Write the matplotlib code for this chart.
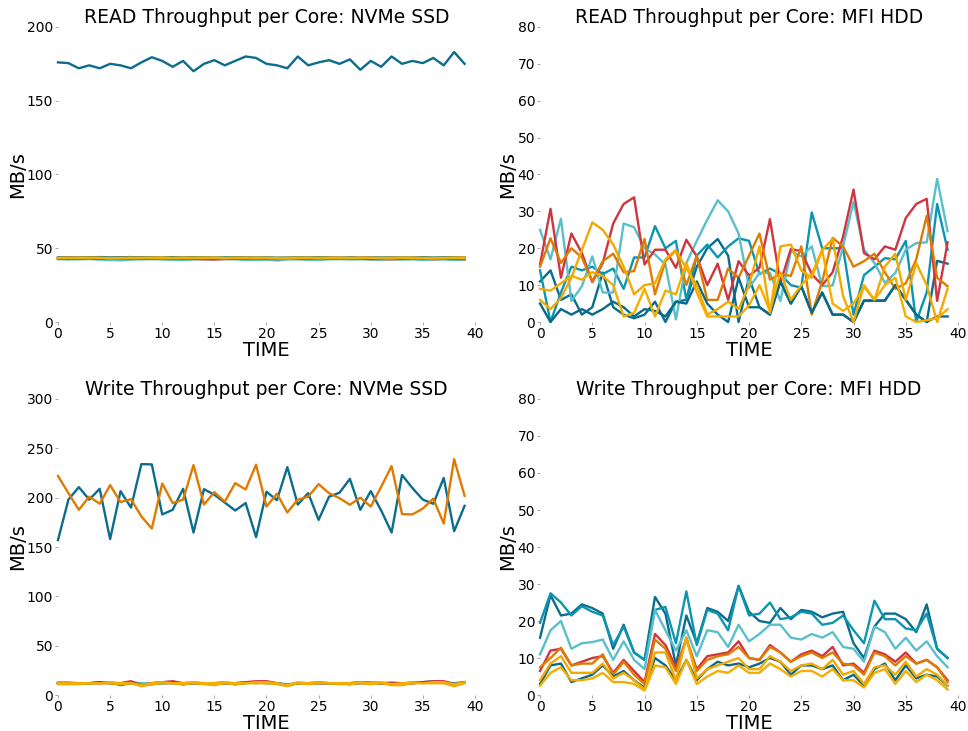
import matplotlib.pyplot as plt

# time steps 0..39
time = list(range(40))

# core colours (same order in every panel)
colors = ['#0b6d8c', '#0b95b2', '#5bbfcb', '#d0343f', '#df7b00', '#086a88', '#f2a900', '#f5ad00']

# ---- READ, NVMe SSD ----
nvme_read = [
    [176, 175.5, 172, 174, 172, 175, 174, 172, 176, 179.5, 177, 173, 177, 170, 175, 177.5, 174, 177, 180, 179,
     175, 174, 172, 180, 174, 176, 177.5, 175, 178, 171, 177, 173, 180, 175, 177, 175.5, 179, 174, 183, 175],
    [43.2, 43.0, 42.8, 43.1, 43.3, 42.6, 42.4, 42.8, 43.0, 43.2, 43.1, 42.7, 42.5, 42.9, 43.0, 42.8, 43.1, 43.2, 42.6, 42.4,
     42.8, 42.2, 42.9, 43.1, 42.7, 42.6, 43.0, 43.2, 42.9, 43.1, 42.8, 42.7, 43.0, 42.9, 43.1, 42.6, 42.9, 43.0, 42.5, 42.8],
    [42.6, 42.4, 42.5, 42.7, 42.3, 42.0, 41.8, 42.3, 42.5, 42.6, 42.4, 42.1, 42.0, 42.4, 42.5, 42.3, 42.6, 42.5, 42.1, 42.0,
     42.3, 41.7, 42.4, 42.5, 42.2, 42.1, 42.5, 42.6, 42.4, 42.5, 42.3, 42.2, 42.4, 42.3, 42.5, 42.1, 42.3, 42.4, 42.0, 42.3],
    [42.8, 42.9, 43.0, 43.0, 42.9, 42.8, 42.9, 43.0, 42.8, 42.9, 43.1, 43.0, 42.9, 42.8, 42.6, 42.5, 42.7, 42.9, 43.0, 42.9,
     42.8, 42.7, 42.9, 42.8, 42.9, 43.0, 43.1, 43.0, 42.9, 43.0, 42.7, 42.8, 42.6, 42.9, 43.0, 43.1, 42.6, 42.9, 43.0, 42.5],
    [43.4, 43.5, 43.3, 43.4, 43.6, 43.2, 43.3, 43.4, 43.5, 43.3, 43.4, 43.6, 43.3, 43.2, 43.4, 43.3, 43.2, 43.5, 43.4, 43.3,
     43.2, 43.1, 43.3, 43.4, 43.5, 43.3, 43.4, 43.2, 43.3, 43.4, 43.5, 43.3, 43.0, 43.4, 43.2, 43.3, 43.1, 43.5, 43.4, 43.2],
    [43.8, 43.9, 43.8, 43.9, 44.0, 43.8, 43.9, 44.0, 43.8, 43.9, 43.8, 43.9, 43.8, 43.9, 43.8, 43.7, 43.8, 43.9, 43.8, 43.7,
     43.8, 43.6, 43.7, 43.8, 43.7, 43.9, 43.8, 43.7, 43.8, 43.7, 43.8, 43.7, 43.8, 43.7, 43.8, 43.9, 43.7, 43.8, 43.9, 43.8],
    [43.3, 43.4, 43.5, 43.4, 43.5, 43.0, 43.2, 43.4, 43.3, 43.5, 43.4, 43.3, 43.4, 43.5, 43.4, 43.6, 43.3, 43.4, 43.5, 43.3,
     43.4, 43.2, 43.0, 43.3, 43.4, 43.2, 43.5, 43.4, 43.3, 43.4, 43.5, 43.3, 43.2, 43.6, 43.4, 43.3, 43.0, 43.2, 43.5, 43.4],
    [43.5, 43.6, 43.5, 43.6, 43.5, 43.4, 43.5, 43.6, 43.5, 43.6, 43.7, 43.5, 43.6, 43.5, 43.6, 43.5, 43.4, 43.6, 43.5, 43.6,
     43.5, 43.4, 43.5, 43.6, 43.5, 43.6, 43.5, 43.6, 43.5, 43.6, 43.5, 43.4, 43.6, 43.5, 43.6, 43.5, 43.4, 43.5, 43.6, 43.7],
]

# ---- READ, MFI HDD ----
hdd_read = [
    [11, 14, 6, 7.5, 2, 4, 13.4, 4, 2, 1, 2, 5.5, 0, 5.5, 6, 15, 20, 22.5, 18, 0,
     12, 4, 2, 11, 5, 9.7, 2.5, 8, 2, 2, 0, 5.8, 5.8, 5.8, 10, 6, 2, 0, 16.6, 15.8],
    [14, 0, 8, 15, 14, 15, 13, 14.5, 9, 17.5, 17.5, 26, 20, 22, 6, 18, 21, 17.5, 20.5, 22.7,
     22, 13, 14.5, 13, 10, 9.3, 29.7, 20, 20, 20, 2, 12.7, 15, 17.3, 17, 22, 0, 8, 32, 19.6],
    [25, 17, 28, 5.7, 9.7, 17.8, 8, 8, 26.7, 25.7, 20, 18.3, 15.6, 0.7, 16, 22, 27.7, 33, 30, 24,
     9.3, 13.3, 13.3, 5.7, 19.2, 17.8, 20.5, 9.7, 9.9, 20.5, 32.6, 19.6, 16, 10.6, 13.3, 19.6, 21.4, 21.6, 38.8, 24.6],
    [15.6, 30.7, 12, 24, 18.7, 10.8, 16, 26.7, 32, 33.8, 15.6, 19.6, 19.6, 14.7, 22.3, 17.8, 10, 15.8, 6, 16.5,
     12.6, 14.7, 27.9, 10.6, 19.8, 19.2, 13, 10, 13.5, 23.2, 35.9, 18.7, 17, 20.5, 19.6, 28.2, 32, 33.4, 5.7, 21.6],
    [15, 22.7, 16, 20, 17.5, 11, 16.5, 18.5, 13.5, 13.8, 22.5, 7.5, 16.5, 19.5, 10, 18, 6, 6, 14.5, 12,
     18, 24, 11.5, 13, 12.5, 20.5, 2, 11, 22.8, 20.5, 15, 16.5, 18.5, 13.5, 9, 10.5, 17, 28.8, 12, 9.7],
    [5, 0, 3.5, 2, 3.5, 2, 3.5, 5.5, 4, 1.5, 3.5, 3, 1.5, 5.5, 5, 11, 5, 2, 0, 12,
     4, 4, 2, 11, 5, 9.7, 2.5, 8, 2, 2, 0, 5.8, 5.8, 5.8, 10, 6, 2, 0, 1.5, 1.5],
    [6, 3.5, 6.5, 12, 19.5, 27, 25, 21, 15, 7.5, 10, 10.5, 17, 19.5, 14.5, 10, 2, 3.5, 5.5, 3.5,
     10, 20.5, 2.5, 20.5, 21, 14, 12, 19.5, 22.5, 7, 0, 10, 6, 15, 18.5, 6, 16, 10, 0, 9],
    [9, 8.5, 10.5, 12.5, 11.5, 13.5, 12.5, 10, 1.5, 2.5, 9, 1.5, 8.5, 7.5, 16, 8, 1.5, 1.5, 1.5, 1.5,
     4.5, 10, 3, 13.5, 6, 10, 13, 19.5, 5, 3, 5, 9.5, 6, 10, 12, 1.5, 0, 0.5, 1, 3.5],
]

# ---- WRITE, NVMe SSD ----
nvme_write = [
    [157, 198, 210.7, 198, 209, 158, 206.6, 190, 234, 233.7, 183, 187.7, 209, 164.7, 208.6, 203, 195, 187, 194.5, 160,
     206, 197.5, 231, 193, 204.6, 177.5, 201, 205, 219, 187.7, 206.6, 187, 164.7, 223, 209.7, 198, 193.8, 220, 166, 191.7],
    [12, 12, 12, 12, 13, 13, 10, 12, 11, 12, 13, 13, 11, 12, 12, 12, 13, 11, 13, 13,
     13, 12, 10, 12, 12, 13, 12, 12, 12, 13, 13, 12, 11, 11, 13, 13, 14, 13, 12, 13],
    [13, 13, 12, 12, 12, 13, 11, 13, 12, 11, 12, 13, 12, 13, 12, 12, 12, 12, 13, 12,
     13, 12, 11, 12, 12, 12, 12, 12, 12, 12, 13, 12, 13, 12, 12, 13, 13, 13, 11, 13],
    [12, 12, 12, 12, 12, 12, 12, 14, 10, 12, 13, 14, 12, 12, 12, 12, 12, 12, 13, 14,
     14, 12, 10, 12, 12, 12, 12, 12, 12, 13, 12, 12, 12, 12, 12, 13, 14, 14, 11, 13],
    [222, 204.6, 187.7, 201, 193.8, 212.7, 195.5, 198.5, 181, 168.7, 214.4, 194.5, 198, 233, 193, 205.6, 196, 214.7, 208.3, 233.4,
     191, 204, 185, 198, 201, 213.7, 204.6, 199.5, 192.8, 200, 191, 211, 232, 183.3, 183, 189, 199, 173.8, 239, 202],
    [12, 12, 12, 12, 13, 12, 11, 12, 10, 11, 12, 12, 11, 12, 12, 11, 12, 11, 12, 13,
     12, 12, 10, 12, 12, 12, 12, 12, 11, 12, 12, 12, 11, 11, 12, 13, 13, 13, 11, 13],
    [11, 11, 11, 12, 12, 12, 11, 12, 9, 11, 12, 12, 11, 12, 11, 10, 12, 11, 12, 12,
     12, 11, 9, 12, 11, 12, 12, 11, 11, 12, 11, 12, 10, 10, 12, 12, 12, 12, 9, 12],
    [12, 12, 12, 12, 12, 13, 12, 12, 10, 12, 13, 12, 12, 13, 12, 12, 13, 12, 12, 13,
     13, 12, 10, 13, 12, 13, 12, 12, 12, 13, 12, 13, 11, 12, 13, 12, 13, 13, 11, 13],
]

# ---- WRITE, MFI HDD ----
hdd_write = [
    [15.5, 27, 21.5, 22, 24.5, 23.5, 22, 12.5, 19, 11.5, 9.5, 26.5, 22, 8, 21.5, 14, 23.5, 22.5, 20, 29.5,
     22.5, 20, 19.5, 23.5, 20.5, 23, 22.5, 21, 22, 22.5, 14, 10, 18.5, 22, 22, 20.5, 17, 24.5, 12.5, 10],
    [19.5, 27.5, 25, 21.5, 24, 22.5, 21.5, 13.5, 18.5, 11.5, 9.5, 23, 23.8, 14, 28, 13.5, 23, 22, 17.5, 29.5,
     21.5, 22, 25, 20.5, 21, 22.5, 22, 19, 19.5, 21.5, 17.5, 14, 25.5, 20.5, 20.5, 18, 17.5, 22, 12.5, 10],
    [11, 17.5, 20, 12.5, 14, 14.3, 15, 9.5, 14.5, 9.5, 7, 23, 17.5, 12, 17.5, 10.5, 17.5, 17, 13, 19,
     14.5, 16.5, 19, 19, 15.5, 15, 16.5, 15.5, 17, 13, 12.5, 9, 18.5, 17, 12.5, 15.5, 12, 14.5, 10.5, 7.5],
    [6.5, 12, 12.5, 8, 9, 10, 10.5, 6, 9.5, 6.5, 3.5, 16.5, 13.5, 7.5, 15, 7, 10.5, 11, 11.5, 14.5,
     10, 9.5, 13.5, 11.5, 9, 11, 12, 10.5, 13, 8, 8.5, 6, 12, 11, 9, 11.5, 8.5, 9.5, 7.5, 4],
    [7.5, 10, 12.8, 8, 8.5, 8.5, 11, 5.5, 9, 5.5, 3, 15, 12.5, 6.5, 15.5, 6.5, 9.5, 10.5, 11, 13,
     10, 9.5, 13, 11.5, 9, 10.5, 11.5, 10, 11.5, 8.5, 8, 5.5, 11.5, 10.5, 8, 10.5, 8.5, 9.5, 7.5, 3.5],
    [3, 8, 8.5, 3.5, 4.5, 5.5, 8, 5, 6.5, 4, 2, 10, 8, 4, 9.5, 4, 7, 9, 8, 8.5,
     7.5, 8.5, 10, 9, 5.5, 8, 8, 7, 8, 4, 5.5, 2.5, 7, 8.5, 4, 8, 4.5, 5.5, 5, 2.5],
    [4, 8.5, 10.5, 6, 6, 6, 8.5, 4.5, 6, 4, 1.5, 11.5, 11.5, 4, 15.5, 4.5, 7, 8, 9, 10,
     7, 7, 10.5, 9, 6.5, 8, 8.5, 7, 9.5, 5.5, 6.5, 3, 7.5, 8, 5.5, 9, 5, 7, 5.5, 2.5],
    [2.5, 6, 7.5, 4, 4, 4.5, 6, 3.5, 3.5, 3, 1.2, 8, 7.5, 3, 9.5, 3, 5, 6.5, 6, 8,
     6, 6, 8.5, 7, 5, 6.5, 6.5, 5, 7, 4, 4, 2, 6, 7, 3, 6.5, 3.5, 5.5, 4, 1.5],
]

panels = [
    ("READ Throughput per Core: NVMe SSD", nvme_read, 200, 50, [0.0599, 0.5595, 0.4308, 0.4036]),
    ("READ Throughput per Core: MFI HDD", hdd_read, 80, 10, [0.5579, 0.5595, 0.4318, 0.4036]),
    ("Write Throughput per Core: NVMe SSD", nvme_write, 300, 50, [0.0599, 0.0492, 0.4308, 0.4050]),
    ("Write Throughput per Core: MFI HDD", hdd_write, 80, 10, [0.5579, 0.0492, 0.4318, 0.4050]),
]

fig = plt.figure(figsize=(9.68, 7.31), dpi=100)

for title, data, ymax, ystep, rect in panels:
    ax = fig.add_axes(rect)
    for vals, c in zip(data, colors):
        ax.plot(time, vals, color=c, lw=1.7, clip_on=False)
    ax.set_xlim(0, 40)
    ax.set_ylim(0, ymax)
    ax.set_xticks(range(0, 41, 5))
    ax.set_yticks(range(0, ymax + 1, ystep))
    for s in ax.spines.values():
        s.set_visible(False)
    ax.tick_params(length=2.5, width=0.6, color='#999999', pad=1, labelsize=10)
    ax.set_title(title, fontsize=13.5, pad=1)
    ax.set_xlabel("TIME", fontsize=14, labelpad=0)
    ax.set_ylabel("MB/s", fontsize=14, labelpad=0)

fig.savefig("out.png", dpi=100)
